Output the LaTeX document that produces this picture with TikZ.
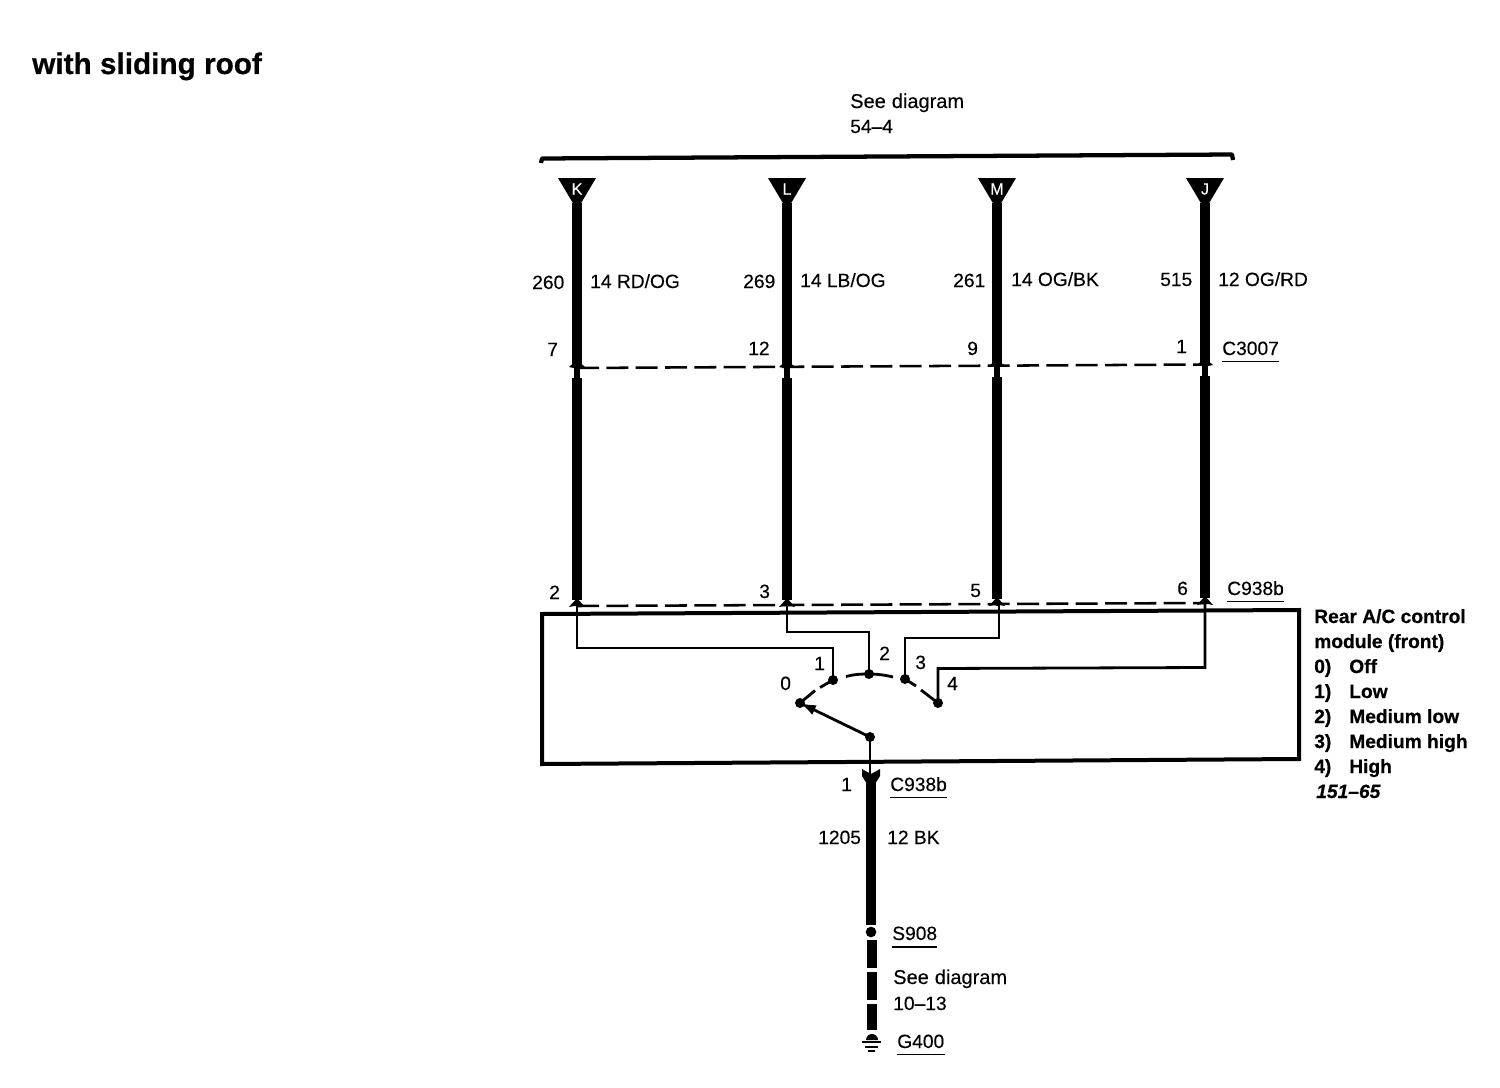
\documentclass[tikz,border=0pt]{standalone}
\usepackage{fontspec}
\setmainfont{Liberation Sans}[UprightFeatures={FakeBold=0.25},BoldFeatures={FakeBold=0.6},BoldItalicFeatures={FakeBold=0.6}]
\usetikzlibrary{arrows.meta}
\tikzset{
  x=0.75pt,y=-0.75pt,
  lab/.style={anchor=base west,inner sep=0pt,font=\fontsize{14.4}{16}\selectfont},
  seelab/.style={anchor=base west,inner sep=0pt,font=\fontsize{15}{16}\selectfont},
  blab/.style={anchor=base west,inner sep=0pt,font=\fontsize{14.4}{16}\selectfont\bfseries},
  title/.style={anchor=base west,inner sep=0pt,font=\fontsize{22.3}{26}\selectfont\bfseries},
  pinl/.style={anchor=center,inner sep=0pt,text=white,font=\fontsize{12}{13}\selectfont},
  thick wire/.style={line width=7pt,line cap=butt},
  neck/.style={line width=4.4pt,line cap=butt},
  thin wire/.style={line width=2.1pt,line join=miter},
  frame/.style={line width=3pt,line join=miter},
  conn dash/.style={line width=1.9pt,dash pattern=on 16.5pt off 5.5pt},
  ulin/.style={line width=0.9pt},
  pdot/.style={circle,fill=black,inner sep=0pt,minimum size=7.5pt},
  tip/.style={fill=black,draw=none},
}
\newcommand{\wirepin}[6]{%
  \coordinate (#1top) at (#3,178);
  \fill[tip] (#3-19,178) -- (#3+19,178) -- (#3,210) -- cycle;
  \node[pinl] (#1pin) at (#3,189) {#2};
  \coordinate (#1a) at (#3,203);
  \coordinate (#1b) at (#3,#4);
  \coordinate (#1c) at (#3,#4+12);
  \coordinate (#1d) at (#3,#5);
  \coordinate (#1e) at (#3,#6);
  \draw[thick wire] (#1a) -- (#1b);
  \draw[neck] (#1b) -- (#1c);
  \fill[tip] (#3-8,#4+1) -- (#3,#4-6) -- (#3+8,#4+1) -- (#3+3,#4+2) -- (#3-3,#4+2) -- cycle;
  \draw[thick wire] (#1c) -- (#1d);
  \fill[tip] (#3-8,#5+7) -- (#3,#5-2) -- (#3+8,#5+7) -- (#3+3,#5+6) -- (#3-3,#5+6) -- cycle;
  \draw[thin wire] (#1d) -- (#1e);
}
\begin{document}
\begin{tikzpicture}
\useasboundingbox (0,0) rectangle (1500,1088);
\node[title] (ttl) at (32,74) {with sliding roof};
\node[seelab] (sd1) at (850,108) {See\hspace{4.5pt}diagram};
\node[lab] (sd2) at (850,133) {54–4};

% bracket
\coordinate (bl0) at (541,163);
\coordinate (bl1) at (542,158.5);
\coordinate (br1) at (1232,154.5);
\coordinate (br0) at (1233,160);
\draw[line width=3.2pt,line join=round] (bl0) -- (bl1) -- (br1) -- (br0);

% wires
\wirepin{k}{K}{577}{366}{600}{606}
\wirepin{l}{L}{787}{366}{600}{606}
\wirepin{m}{M}{997}{365}{599}{606}
\wirepin{j}{J}{1205}{364}{598}{606}

% connector dashed lines
\coordinate (c1l) at (577,368);
\coordinate (c1r) at (1205,364.5);
\coordinate (c2l) at (577,606);
\coordinate (c2r) at (1205,603);
\draw[conn dash] (c1l) -- (c1r);
\draw[conn dash] (c2l) -- (c2r);

% module box
\coordinate (bxa) at (542,614);
\coordinate (bxb) at (1299,610);
\coordinate (bxc) at (1299,759);
\coordinate (bxd) at (542,764);
\draw[frame] (bxa) -- (bxb) -- (bxc) -- (bxd) -- cycle;

% switch contacts
\node[pdot] (p0) at (800,703) {};
\node[pdot] (p1) at (833,680) {};
\node[pdot] (p2) at (869,674) {};
\node[pdot] (p3) at (905,679) {};
\node[pdot] (p4) at (938,703) {};
\node[pdot] (pv) at (870,737) {};

% inner wiring
\draw[thin wire] (ke) -- (577,648) -- (833,648) -- (p1.center);
\draw[thin wire] (le) -- (787,632) -- (869,632) -- (p2.center);
\draw[thin wire] (999,604) -- (999,638) -- (905,638) -- (p3.center);
\draw[thin wire] (1205,604) -- (1205,667.5) -- (938,668.5) -- (p4.center);
\draw[thin wire] (pv.center) -- (870,780);
\draw[thin wire,-{Latex[length=12pt,width=8pt]}] (pv.center) -- (p0.center);

% dashed arc
\draw[thin wire,line cap=butt] (p0.center) -- (815,690.5);
\draw[thin wire,line cap=butt] (820,687.5) -- (p1.center);
\draw[thin wire,line cap=butt] (846,676.5) .. controls (853,674.5) and (860,674) .. (p2.center);
\draw[thin wire,line cap=butt] (p2.center) .. controls (877,674) and (885,675) .. (893,677);
\draw[thin wire,line cap=butt] (p3.center) -- (916,686);
\draw[thin wire,line cap=butt] (921,690) -- (p4.center);

% lower wire
\coordinate (wb) at (871,925);
\fill[tip] (862,769) -- (871,774) -- (880,769) -- (880,776) -- (875,784) -- (867,784) -- (862,776) -- cycle;
\draw[thick wire] (871,776) -- (wb);
\node[circle,fill=black,inner sep=0pt,minimum size=8pt] (s908) at (871,932) {};
\coordinate (d1a) at (872,940);
\coordinate (d1b) at (872,968);
\coordinate (d2a) at (872,972);
\coordinate (d2b) at (872,1000);
\coordinate (d3a) at (872,1004);
\coordinate (d3b) at (872,1030);
\draw[thick wire] (d1a) -- (d1b);
\draw[thick wire] (d2a) -- (d2b);
\draw[thick wire] (d3a) -- (d3b);

% ground symbol
\fill[tip] (866,1040) arc[start angle=180,end angle=360,radius=6] -- cycle;
\coordinate (g1a) at (862,1042); \coordinate (g1b) at (881,1042);
\coordinate (g2a) at (865,1047); \coordinate (g2b) at (878,1047);
\coordinate (g3a) at (868,1051); \coordinate (g3b) at (875,1051);
\draw[line width=2pt] (g1a) -- (g1b);
\draw[line width=2pt] (g2a) -- (g2b);
\draw[line width=2pt] (g3a) -- (g3b);

% wire labels
\node[lab] (t260) at (532,289) {260};
\node[lab] (c260) at (590,288) {14 RD/OG};
\node[lab] (t269) at (743,288) {269};
\node[lab] (c269) at (800,287) {14 LB/OG};
\node[lab] (t261) at (953,287) {261};
\node[lab] (c261) at (1011,286) {14 OG/BK};
\node[lab] (t515) at (1160,286) {515};
\node[lab] (c515) at (1218,286) {12 OG/RD};

\node[lab] (a7) at (547,356) {7};
\node[lab] (a12) at (748,355) {12};
\node[lab] (a9) at (967,355) {9};
\node[lab] (a1) at (1176,353) {1};
\node[lab] (c3007) at (1222,355) {C3007};
\draw[ulin] ([yshift=-4.5pt]c3007.south west) -- ([yshift=-4.5pt]c3007.south east);

\node[lab] (b2) at (549,599) {2};
\node[lab] (b3) at (759,598) {3};
\node[lab] (b5) at (970,597) {5};
\node[lab] (b6) at (1177,595) {6};
\node[lab] (c938a) at (1227,595) {C938b};
\draw[ulin] ([yshift=-4.5pt]c938a.south west) -- ([yshift=-4.5pt]c938a.south east);

\node[lab] (s1) at (814,670) {1};
\node[lab] (s2) at (879,660) {2};
\node[lab] (s3) at (915,669) {3};
\node[lab] (s4) at (947,690) {4};
\node[lab] (s0) at (780,690) {0};

\node[lab] (p1l) at (841,791) {1};
\node[lab] (c938c) at (890,791) {C938b};
\draw[ulin] ([yshift=-4.5pt]c938c.south west) -- ([yshift=-4.5pt]c938c.south east);
\node[lab] (t1205) at (818,844) {1205};
\node[lab] (c1205) at (887,844) {12 BK};
\node[lab] (ts908) at (892,940) {S908};
\draw[line width=1.3pt] ([yshift=-5pt]ts908.south west) -- ([yshift=-5pt]ts908.south east);
\node[seelab] (sd3) at (893,984) {See\hspace{4.5pt}diagram};
\node[lab] (sd4) at (893,1010) {10–13};
\node[lab] (tg400) at (897,1048) {G400};
\draw[line width=1.3pt] ([yshift=-4.5pt]tg400.south west) -- ([yshift=-4.5pt]tg400.south east);

% legend
\node[blab] (lg1) at (1314,623) {Rear A/C control};
\node[blab] (lg2) at (1314,648) {module (front)};
\node[blab] (n0) at (1314,673) {0)};
\node[blab] (v0) at (1349,673) {Off};
\node[blab] (n1) at (1314,698) {1)};
\node[blab] (v1) at (1349,698) {Low};
\node[blab] (n2) at (1314,723) {2)};
\node[blab] (v2) at (1349,723) {Medium low};
\node[blab] (n3) at (1314,748) {3)};
\node[blab] (v3) at (1349,748) {Medium high};
\node[blab] (n4) at (1314,773) {4)};
\node[blab] (v4) at (1349,773) {High};
\node[blab,font=\fontsize{14.4}{16}\selectfont\bfseries\itshape] (fig) at (1316,798) {151–65};
\end{tikzpicture}
\end{document}
